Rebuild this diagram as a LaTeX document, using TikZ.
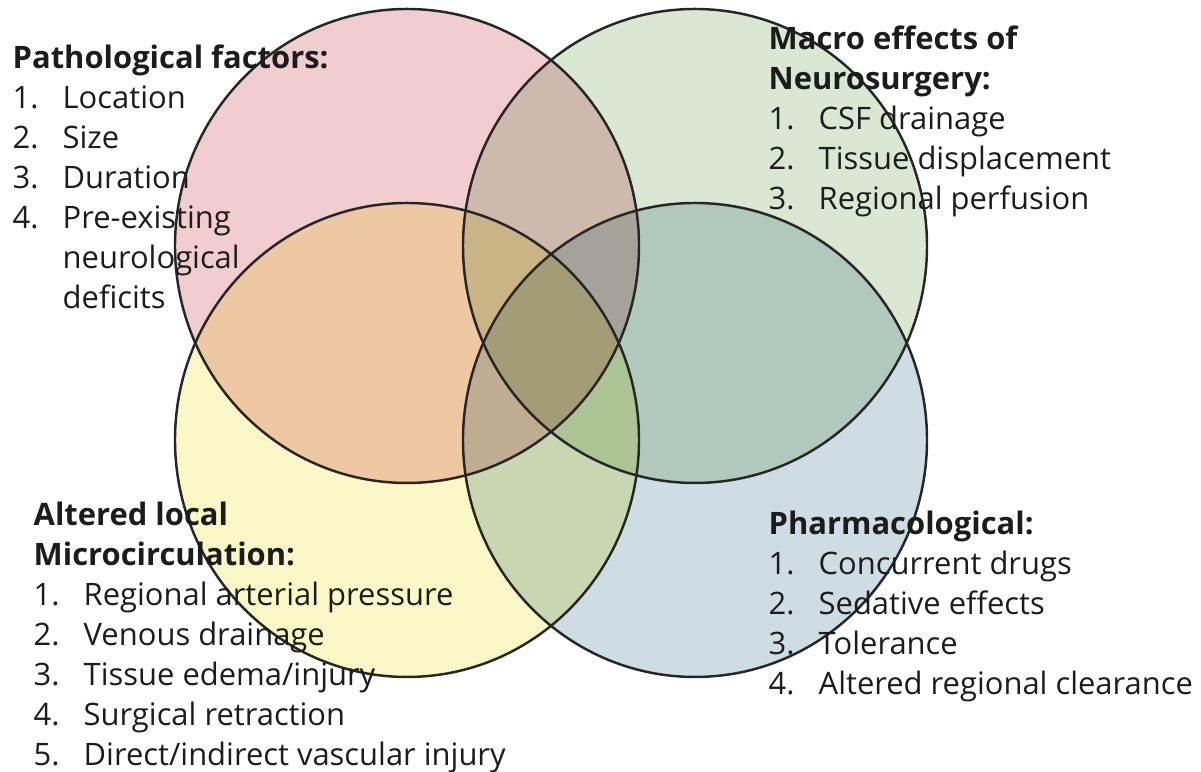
\documentclass[tikz,border=0pt]{standalone}
\usepackage{fontspec}
\setmainfont{Open Sans}
\definecolor{pathpink}{RGB}{242,205,208}
\definecolor{macrogreen}{RGB}{218,232,211}
\definecolor{microyellow}{RGB}{251,248,200}
\definecolor{pharmblue}{RGB}{206,221,228}
\definecolor{txtgray}{RGB}{28,28,28}
\newcommand{\itm}[2]{\makebox[0.5cm][l]{#1.}#2}
\newcommand{\cont}[1]{\hspace*{0.5cm}#1}
\begin{document}
\begin{tikzpicture}[
    line cap=round,
    line join=round,
    ring/.style={draw=black!85, line width=0.7pt},
    listtxt/.style={anchor=north west, inner sep=0pt, align=left, text=txtgray,
      font=\fontsize{8.8pt}{11.4pt}\selectfont}
]
\useasboundingbox (0,0) rectangle (12.01,7.72);

% coloured discs first, multiplied so the overlaps darken
\begin{scope}[blend group=multiply]
  \fill[pathpink]    (4.07,5.26) ellipse [x radius=2.32, y radius=2.37];
  \fill[macrogreen]  (6.95,5.26) ellipse [x radius=2.32, y radius=2.37];
  \fill[microyellow] (4.07,3.32) ellipse [x radius=2.32, y radius=2.37];
  \fill[pharmblue]   (6.95,3.32) ellipse [x radius=2.32, y radius=2.37];
\end{scope}

% outlines on top
\draw[ring] (4.07,5.26) ellipse [x radius=2.32, y radius=2.37];
\draw[ring] (6.95,5.26) ellipse [x radius=2.32, y radius=2.37];
\draw[ring] (4.07,3.32) ellipse [x radius=2.32, y radius=2.37];
\draw[ring] (6.95,3.32) ellipse [x radius=2.32, y radius=2.37];

% lists
\node[listtxt] (patho) at (0.12,7.28) {\textbf{Pathological factors:}\\
  \itm{1}{Location}\\
  \itm{2}{Size}\\
  \itm{3}{Duration}\\
  \itm{4}{Pre-existing}\\
  \cont{neurological}\\
  \cont{deficits}};

\node[listtxt] (macro) at (7.68,7.47) {\textbf{Macro effects of}\\
  \textbf{Neurosurgery:}\\
  \itm{1}{CSF drainage}\\
  \itm{2}{Tissue displacement}\\
  \itm{3}{Regional perfusion}};

\node[listtxt] (micro) at (0.33,2.71) {\textbf{Altered local}\\
  \textbf{Microcirculation:}\\
  \itm{1}{Regional arterial pressure}\\
  \itm{2}{Venous drainage}\\
  \itm{3}{Tissue edema/injury}\\
  \itm{4}{Surgical retraction}\\
  \itm{5}{Direct/indirect vascular injury}};

\node[listtxt] (pharm) at (7.68,2.62) {\textbf{Pharmacological:}\\
  \itm{1}{Concurrent drugs}\\
  \itm{2}{Sedative effects}\\
  \itm{3}{Tolerance}\\
  \itm{4}{Altered regional clearance}};

\end{tikzpicture}
\end{document}
